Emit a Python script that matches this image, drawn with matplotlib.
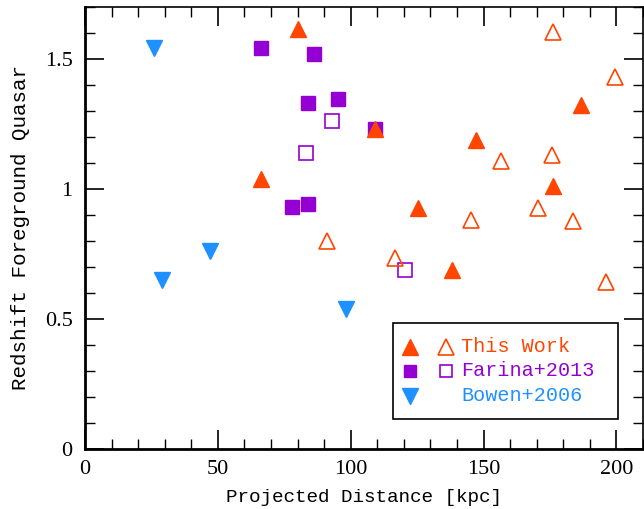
import matplotlib
matplotlib.use("Agg")
import matplotlib.pyplot as plt
from matplotlib.patches import Rectangle
from matplotlib.ticker import MultipleLocator

# This Work
tw_filled_x = [80.1, 66.2, 109.3, 147.2, 186.5, 176.3, 125.2, 138.3]
tw_filled_y = [1.615, 1.038, 1.23, 1.188, 1.323, 1.01, 0.927, 0.688]
tw_open_x = [176.3, 199.6, 175.6, 156.4, 145.4, 170.3, 183.5, 91.2, 116.5, 196.2]
tw_open_y = [1.604, 1.43, 1.13, 1.108, 0.88, 0.927, 0.877, 0.80, 0.735, 0.642]
# Farina+2013
fa_filled_x = [66.3, 86.2, 84.0, 95.2, 109.3, 77.9, 84.0]
fa_filled_y = [1.541, 1.518, 1.33, 1.345, 1.23, 0.93, 0.941]
fa_open_x = [93.1, 83.2, 120.3]
fa_open_y = [1.262, 1.137, 0.688]
# Bowen+2006
bo_x = [26.1, 29.1, 47.1, 98.2]
bo_y = [1.543, 0.65, 0.761, 0.537]

labels = ["This Work", "Farina+2013", "Bowen+2006"]
x_ticks = [0, 50, 100, 150, 200]
y_ticks = [0, 0.5, 1.0, 1.5]
y_ticklabels = ["0", "0.5", "1", "1.5"]

c_tw = "#FF4500"
c_fa = "#9400D3"
c_bo = "#1E90FF"

mono = "Liberation Mono"
serif = "Liberation Serif"

fig = plt.figure(figsize=(6.44, 5.09), dpi=100)
ax = fig.add_axes([85/644, 60/509, 558/644, 442/509])

ms_t = 11
ms_s = 9.5
ax.plot(fa_filled_x, fa_filled_y, 's', color=c_fa, ms=ms_s, mec=c_fa, ls='none')
ax.plot(fa_open_x, fa_open_y, 's', mfc='white', mec=c_fa, mew=1.2, ms=ms_s, ls='none')
ax.plot(tw_filled_x, tw_filled_y, '^', color=c_tw, ms=ms_t, mec=c_tw, ls='none')
ax.plot(tw_open_x, tw_open_y, '^', mfc='none', mec=c_tw, mew=1.2, ms=ms_t, ls='none')
ax.plot(bo_x, bo_y, 'v', color=c_bo, ms=ms_t, mec=c_bo, ls='none')

ax.set_xlim(0, 210)
ax.set_ylim(0, 1.7)
ax.xaxis.set_minor_locator(MultipleLocator(10))
ax.yaxis.set_minor_locator(MultipleLocator(0.1))
ax.set_xticks(x_ticks)
ax.set_xticklabels([str(v) for v in x_ticks])
ax.set_yticks(y_ticks)
ax.set_yticklabels(y_ticklabels)
ax.tick_params(which='both', direction='in', top=True, right=True, color='black')
ax.tick_params(which='major', length=14, width=1.2, labelsize=16)
ax.tick_params(axis='x', which='major', pad=8)
ax.tick_params(axis='y', which='major', pad=9)
ax.tick_params(which='minor', length=7, width=1.0)
for lab in ax.get_xticklabels() + ax.get_yticklabels():
    lab.set_fontfamily(serif)
ax.spines['left'].set_linewidth(2)
ax.spines['bottom'].set_linewidth(2)
ax.spines['top'].set_linewidth(1.2)
ax.spines['right'].set_linewidth(1.2)

ax.set_xlabel("Projected Distance [kpc]", fontfamily=mono, fontsize=13.9, labelpad=7)
ax.set_ylabel("Redshift Foreground Quasar", fontfamily=mono, fontsize=15, labelpad=10.5)

# legend drawn in axes coordinates
ax.add_patch(Rectangle((0.552, 0.068), 0.403, 0.217, transform=ax.transAxes,
                       facecolor='white', edgecolor='black', lw=1.2, zorder=5))
rows_y = [0.2308, 0.1765, 0.120]
xm1, xm2, xt = 0.5824, 0.647, 0.674
ax.plot([xm1], [rows_y[0]], '^', color=c_tw, ms=ms_t, transform=ax.transAxes, zorder=6)
ax.plot([xm2], [rows_y[0]], '^', mfc='none', mec=c_tw, mew=1.2, ms=ms_t, transform=ax.transAxes, zorder=6)
ax.plot([xm1], [rows_y[1]], 's', color=c_fa, ms=ms_s * 0.85, transform=ax.transAxes, zorder=6)
ax.plot([xm2], [rows_y[1]], 's', mfc='white', mec=c_fa, mew=1.2, ms=ms_s * 0.85, transform=ax.transAxes, zorder=6)
ax.plot([xm1], [rows_y[2]], 'v', color=c_bo, ms=ms_t, transform=ax.transAxes, zorder=6)
for lab, yy, c in zip(labels, rows_y, [c_tw, c_fa, c_bo]):
    ax.text(xt, yy, lab, color=c, fontfamily=mono, fontsize=14.5, va='center', ha='left',
            transform=ax.transAxes, zorder=6)

fig.savefig("out.png", dpi=100)
